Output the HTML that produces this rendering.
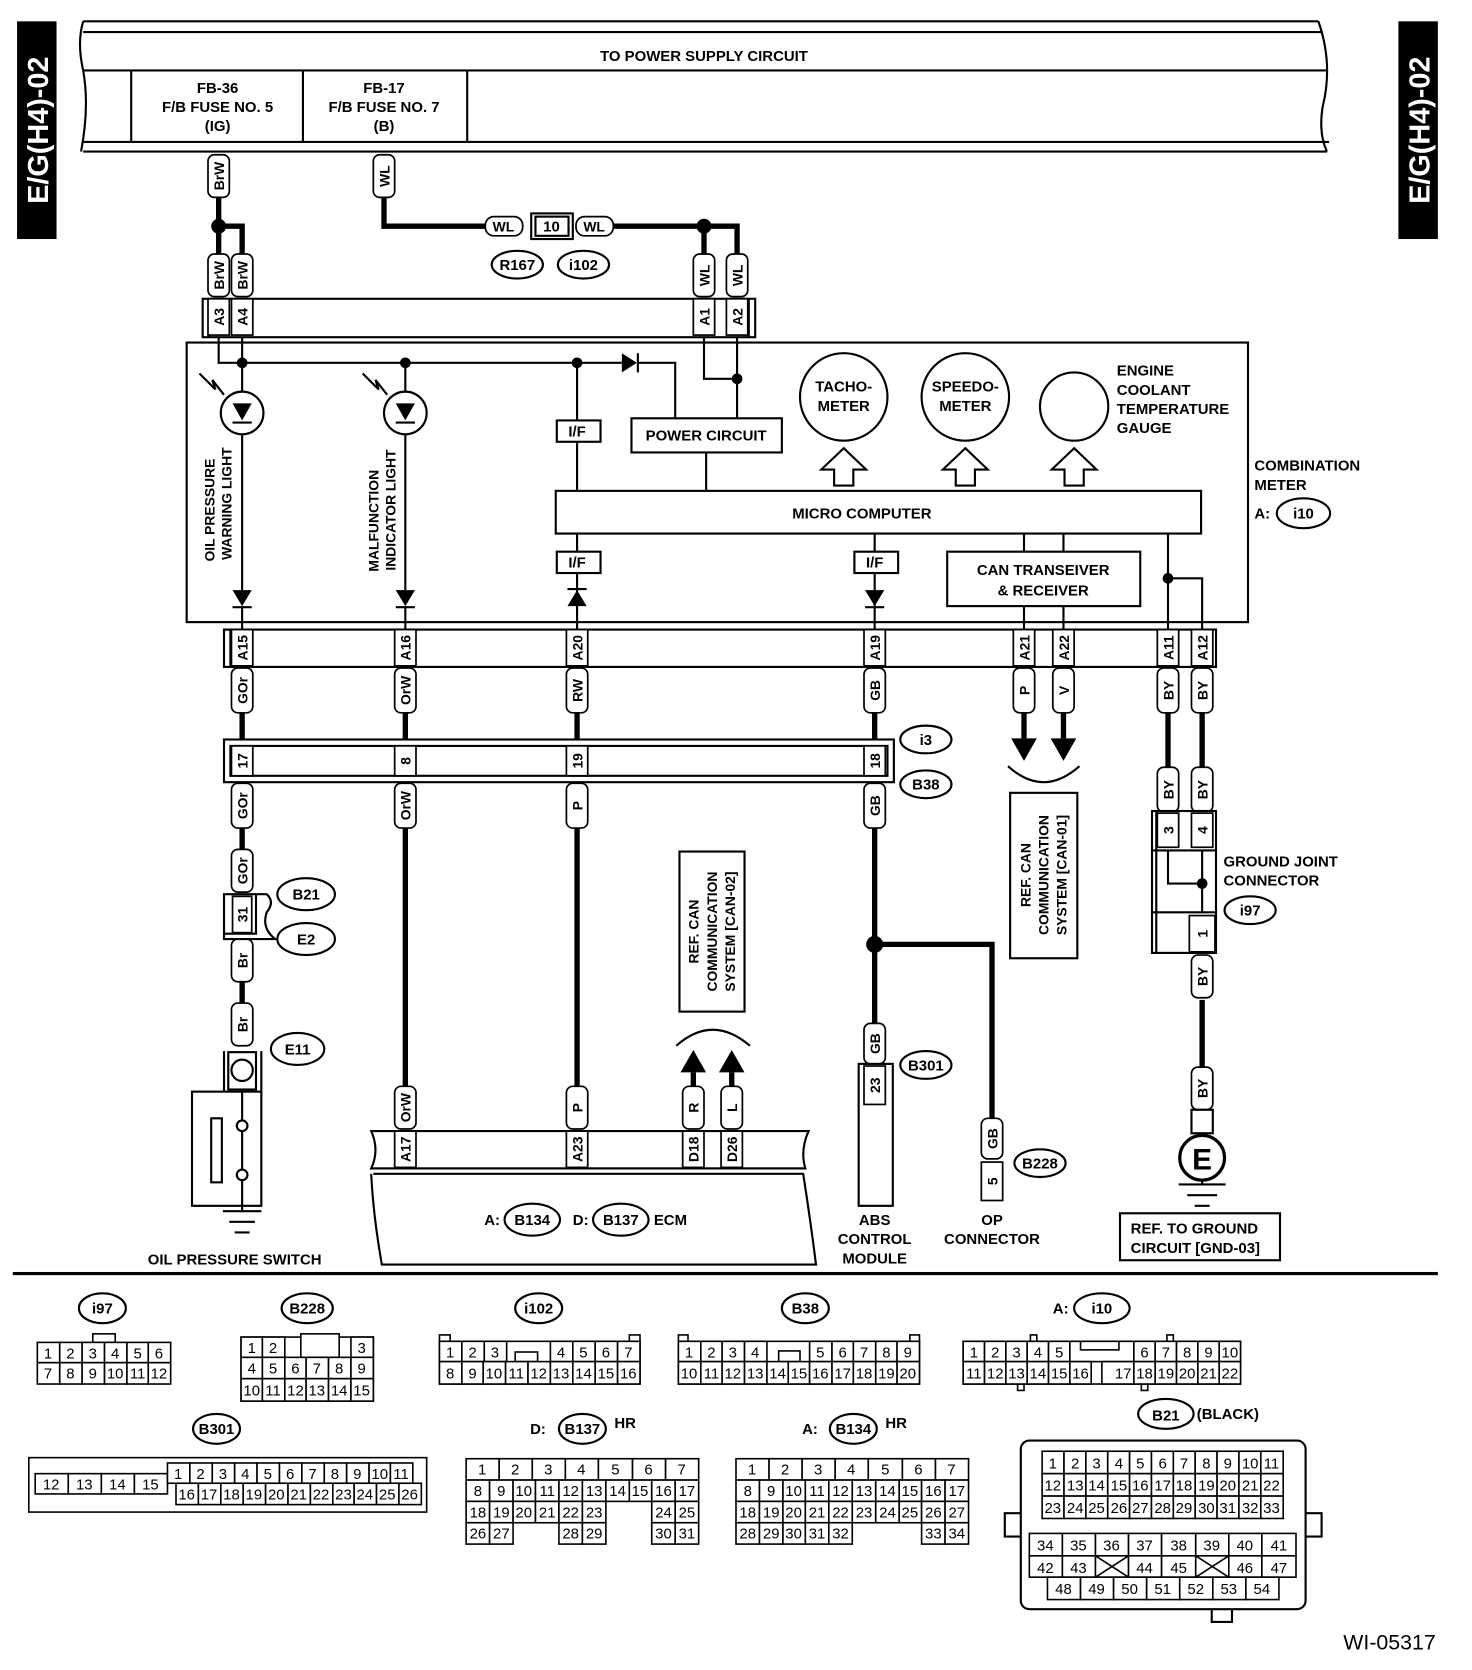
<!DOCTYPE html>
<html><head><meta charset="utf-8"><style>
html,body{margin:0;padding:0;background:#fff}
svg{display:block}
text{font-family:"Liberation Sans Narrow","Liberation Sans",sans-serif;font-weight:bold;font-size:14px;fill:#000}
.c{text-anchor:middle}
.p rect,.p polygon{fill:#fff;stroke:#000;stroke-width:1.6}
.p text{text-anchor:middle;font-family:"Liberation Sans",sans-serif;font-size:13px}
.t{stroke:#000;stroke-width:5;fill:none}
.n{stroke:#000;stroke-width:2;fill:none}
.b{fill:#fff;stroke:#000;stroke-width:2}
.g rect{fill:#fff;stroke:#000;stroke-width:1.5}
.g text{text-anchor:middle;font-weight:normal;font-size:14px}
.e{fill:#fff;stroke:#000;stroke-width:2}
</style></head><body>
<svg width="1472" height="1670" viewBox="0 0 1380 1565" preserveAspectRatio="none" xmlns="http://www.w3.org/2000/svg">
<!-- side labels -->
<rect x="16" y="20" width="37" height="204" fill="#000"/>
<text transform="translate(45,122) rotate(-90)" class="c" style="fill:#fff;font-family:'Liberation Sans',sans-serif;font-size:27px">E/G(H4)-02</text>
<rect x="1311" y="20" width="37" height="204" fill="#000"/>
<text transform="translate(1340,122) rotate(-90)" class="c" style="fill:#fff;font-family:'Liberation Sans',sans-serif;font-size:27px">E/G(H4)-02</text>

<!-- power supply bar -->
<path class="n" d="M78,20 H1236 M78,30 H1240 M78,66 H1244 M78,133 H1246 M78,142 H1244"/>
<path class="n" d="M78,20 Q72,40 78,66 Q84,100 76,142 M1236,20 Q1250,60 1240,100 Q1236,125 1244,142"/>
<text x="660" y="57" class="c">TO POWER SUPPLY CIRCUIT</text>
<path class="n" d="M123,66 V133 M284,66 V133 M438,66 V133"/>
<text x="204" y="87" class="c">FB-36</text><text x="204" y="105" class="c">F/B FUSE NO. 5</text><text x="204" y="123" class="c">(IG)</text>
<text x="360" y="87" class="c">FB-17</text><text x="360" y="105" class="c">F/B FUSE NO. 7</text><text x="360" y="123" class="c">(B)</text>

<!-- thick wires top -->
<path class="t" d="M205,185 V238 M205,212 H227 V238 M360,185 V212 H455 M575,212 H691 V238 M660,212 V238"/>
<circle cx="205" cy="212" r="7"/><circle cx="660" cy="212" r="7"/>
<g class="p"><rect x="455" y="203" width="35" height="18" rx="8"/><text x="472" y="217">WL</text></g>
<rect x="498" y="200" width="39" height="24" class="b"/><rect x="502" y="203" width="31" height="18" class="b"/><text x="517" y="217" class="c">10</text>
<g class="p"><rect x="540" y="203" width="35" height="18" rx="8"/><text x="557" y="217">WL</text></g>
<ellipse cx="485" cy="248" rx="24" ry="13" class="e"/><text x="485" y="253" class="c">R167</text>
<ellipse cx="547" cy="248" rx="24" ry="13" class="e"/><text x="547" y="253" class="c">i102</text>

<!-- pills top -->
<g class="p">
<g transform="translate(205,165)"><rect x="-10" y="-20" width="20" height="40" rx="6"/><text transform="rotate(-90)" y="5">BrW</text></g>
<g transform="translate(360,165)"><rect x="-10" y="-20" width="20" height="40" rx="6"/><text transform="rotate(-90)" y="5">WL</text></g>
<g transform="translate(205,258)"><rect x="-10" y="-20" width="20" height="40" rx="6"/><text transform="rotate(-90)" y="5">BrW</text></g>
<g transform="translate(227,258)"><rect x="-10" y="-20" width="20" height="40" rx="6"/><text transform="rotate(-90)" y="5">BrW</text></g>
<g transform="translate(660,258)"><rect x="-10" y="-20" width="20" height="40" rx="6"/><text transform="rotate(-90)" y="5">WL</text></g>
<g transform="translate(691,258)"><rect x="-10" y="-20" width="20" height="40" rx="6"/><text transform="rotate(-90)" y="5">WL</text></g>
</g>
<!-- top connector of meter -->
<rect x="190" y="280" width="518" height="36" class="b"/>
<path class="n" d="M196,280 V316 M702,280 V316"/>
<g class="p">
<g transform="translate(205,297)"><rect x="-10" y="-17" width="20" height="34"/><text transform="rotate(-90)" y="5">A3</text></g>
<g transform="translate(227,297)"><rect x="-10" y="-17" width="20" height="34"/><text transform="rotate(-90)" y="5">A4</text></g>
<g transform="translate(660,297)"><rect x="-10" y="-17" width="20" height="34"/><text transform="rotate(-90)" y="5">A1</text></g>
<g transform="translate(691,297)"><rect x="-10" y="-17" width="20" height="34"/><text transform="rotate(-90)" y="5">A2</text></g>
</g>

<!-- combination meter box -->
<rect x="175" y="321" width="995" height="262" class="b"/>
<path class="n" d="M205,316 V340 H583 M598,340 H633 V392 M227,316 V340 M660,316 V355 H691 M691,316 V392 M662,424 V460"/>
<polygon points="583,331 583,349 597,340"/><path class="n" d="M598,331 V349"/>
<circle cx="227" cy="340" r="5"/><circle cx="380" cy="340" r="5"/><circle cx="541" cy="340" r="5"/><circle cx="691" cy="355" r="5"/>
<!-- LEDs -->
<path class="n" d="M227,340 V553 M227,568 V590 M380,340 V553 M380,568 V590"/>
<circle cx="227" cy="387" r="20" class="e"/><circle cx="380" cy="387" r="20" class="e"/>
<polygon points="218,378 236,378 227,394"/><path class="n" d="M218,396 H236"/>
<polygon points="371,378 389,378 380,394"/><path class="n" d="M371,396 H389"/>
<path class="n" d="M187,350 L202,365 L199,356 L210,370 M340,350 L355,365 L352,356 L363,370"/>
<polygon points="218,553 236,553 227,568"/><path class="n" d="M218,569 H236"/>
<polygon points="371,553 389,553 380,568"/><path class="n" d="M371,569 H389"/>
<text transform="translate(201,478) rotate(-90)" class="c" style="font-family:'Liberation Sans',sans-serif;font-size:13px">OIL PRESSURE</text>
<text transform="translate(217,472) rotate(-90)" class="c" style="font-family:'Liberation Sans',sans-serif;font-size:13px">WARNING LIGHT</text>
<text transform="translate(355,488) rotate(-90)" class="c" style="font-family:'Liberation Sans',sans-serif;font-size:13px">MALFUNCTION</text>
<text transform="translate(371,478) rotate(-90)" class="c" style="font-family:'Liberation Sans',sans-serif;font-size:13px">INDICATOR LIGHT</text>
<!-- I/F lines -->
<path class="n" d="M541,340 V590 M820,500 V590 M960,500 V590 M997,500 V590 M1095,500 V590 M1095,542 H1127 V590"/>
<circle cx="1095" cy="542" r="5"/>
<rect x="522" y="394" width="41" height="20" class="b"/><text x="541" y="409" class="c">I/F</text>
<rect x="522" y="517" width="41" height="20" class="b"/><text x="541" y="532" class="c">I/F</text>
<rect x="801" y="517" width="41" height="20" class="b"/><text x="820" y="532" class="c">I/F</text>
<polygon points="532,568 550,568 541,553"/><path class="n" d="M532,552 H550"/>
<polygon points="811,553 829,553 820,568"/><path class="n" d="M811,569 H829"/>
<rect x="592" y="392" width="141" height="32" class="b"/><text x="662" y="413" class="c">POWER CIRCUIT</text>
<rect x="521" y="460" width="605" height="40" class="b"/><text x="808" y="486" class="c">MICRO COMPUTER</text>
<rect x="888" y="517" width="181" height="51" class="b"/>
<text x="978" y="539" class="c">CAN TRANSEIVER</text><text x="978" y="558" class="c">&amp; RECEIVER</text>
<!-- gauges -->
<circle cx="791" cy="372" r="41" class="e"/><text x="791" y="367" class="c">TACHO-</text><text x="791" y="385" class="c">METER</text>
<circle cx="905" cy="372" r="41" class="e"/><text x="905" y="367" class="c">SPEEDO-</text><text x="905" y="385" class="c">METER</text>
<circle cx="1007" cy="381" r="32" class="e"/>
<g class="e"><polygon points="791,420 812,440 800,440 800,455 782,455 782,440 770,440"/>
<polygon points="905,420 926,440 914,440 914,455 896,455 896,440 884,440"/>
<polygon points="1007,420 1028,440 1016,440 1016,455 998,455 998,440 986,440"/></g>
<text x="1047" y="352">ENGINE</text><text x="1047" y="370">COOLANT</text><text x="1047" y="388">TEMPERATURE</text><text x="1047" y="406">GAUGE</text>
<text x="1176" y="441">COMBINATION</text><text x="1176" y="459">METER</text><text x="1176" y="486">A:</text>
<ellipse cx="1222" cy="481" rx="25" ry="14" class="e"/><text x="1222" y="486" class="c">i10</text>

<!-- bottom meter connector -->
<rect x="210" y="590" width="930" height="35" class="b"/>
<path class="n" d="M216,590 V625 M1134,590 V625"/>
<g class="p">
<g transform="translate(227,607)"><rect x="-10" y="-17" width="20" height="34"/><text transform="rotate(-90)" y="5">A15</text></g>
<g transform="translate(380,607)"><rect x="-10" y="-17" width="20" height="34"/><text transform="rotate(-90)" y="5">A16</text></g>
<g transform="translate(541,607)"><rect x="-10" y="-17" width="20" height="34"/><text transform="rotate(-90)" y="5">A20</text></g>
<g transform="translate(820,607)"><rect x="-10" y="-17" width="20" height="34"/><text transform="rotate(-90)" y="5">A19</text></g>
<g transform="translate(960,607)"><rect x="-10" y="-17" width="20" height="34"/><text transform="rotate(-90)" y="5">A21</text></g>
<g transform="translate(997,607)"><rect x="-10" y="-17" width="20" height="34"/><text transform="rotate(-90)" y="5">A22</text></g>
<g transform="translate(1095,607)"><rect x="-10" y="-17" width="20" height="34"/><text transform="rotate(-90)" y="5">A11</text></g>
<g transform="translate(1127,607)"><rect x="-10" y="-17" width="20" height="34"/><text transform="rotate(-90)" y="5">A12</text></g>
</g>
<!-- thick wires lower -->
<path class="t" d="M227,668 V693 M380,668 V693 M541,668 V693 M820,668 V693 M960,668 V692 M997,668 V692 M1095,668 V720 M1127,668 V720
M227,775 V797 M227,917 V940 M380,775 V1018 M541,775 V1018 M820,775 V960 M820,885 H930 V1048 M1127,937 V1000 M650,1005 V1018 M686,1005 V1018"/>
<circle cx="820" cy="885" r="8"/>
<polygon points="948,692 972,692 960,713"/><polygon points="985,692 1009,692 997,713"/>
<path class="n" d="M945,718 Q978,748 1012,718"/>
<polygon points="638,1005 662,1005 650,984"/><polygon points="674,1005 698,1005 686,984"/>
<path class="n" d="M634,980 Q668,950 703,980"/>
<g class="p">
<g transform="translate(227,647)"><rect x="-10" y="-21" width="20" height="42" rx="6"/><text transform="rotate(-90)" y="5">GOr</text></g>
<g transform="translate(380,647)"><rect x="-10" y="-21" width="20" height="42" rx="6"/><text transform="rotate(-90)" y="5">OrW</text></g>
<g transform="translate(541,647)"><rect x="-10" y="-21" width="20" height="42" rx="6"/><text transform="rotate(-90)" y="5">RW</text></g>
<g transform="translate(820,647)"><rect x="-10" y="-21" width="20" height="42" rx="6"/><text transform="rotate(-90)" y="5">GB</text></g>
<g transform="translate(960,647)"><rect x="-10" y="-21" width="20" height="42" rx="6"/><text transform="rotate(-90)" y="5">P</text></g>
<g transform="translate(997,647)"><rect x="-10" y="-21" width="20" height="42" rx="6"/><text transform="rotate(-90)" y="5">V</text></g>
<g transform="translate(1095,647)"><rect x="-10" y="-21" width="20" height="42" rx="6"/><text transform="rotate(-90)" y="5">BY</text></g>
<g transform="translate(1127,647)"><rect x="-10" y="-21" width="20" height="42" rx="6"/><text transform="rotate(-90)" y="5">BY</text></g>
<g transform="translate(227,755)"><rect x="-10" y="-21" width="20" height="42" rx="6"/><text transform="rotate(-90)" y="5">GOr</text></g>
<g transform="translate(380,755)"><rect x="-10" y="-21" width="20" height="42" rx="6"/><text transform="rotate(-90)" y="5">OrW</text></g>
<g transform="translate(541,755)"><rect x="-10" y="-21" width="20" height="42" rx="6"/><text transform="rotate(-90)" y="5">P</text></g>
<g transform="translate(820,755)"><rect x="-10" y="-21" width="20" height="42" rx="6"/><text transform="rotate(-90)" y="5">GB</text></g>
<g transform="translate(1095,740)"><rect x="-10" y="-21" width="20" height="42" rx="6"/><text transform="rotate(-90)" y="5">BY</text></g>
<g transform="translate(1127,740)"><rect x="-10" y="-21" width="20" height="42" rx="6"/><text transform="rotate(-90)" y="5">BY</text></g>
<g transform="translate(227,816)"><rect x="-10" y="-20" width="20" height="40" rx="6"/><text transform="rotate(-90)" y="5">GOr</text></g>
<g transform="translate(227,900)"><rect x="-10" y="-20" width="20" height="40" rx="6"/><text transform="rotate(-90)" y="5">Br</text></g>
<g transform="translate(227,960)"><rect x="-10" y="-20" width="20" height="40" rx="6"/><text transform="rotate(-90)" y="5">Br</text></g>
<g transform="translate(380,1038)"><rect x="-10" y="-20" width="20" height="40" rx="6"/><text transform="rotate(-90)" y="5">OrW</text></g>
<g transform="translate(541,1038)"><rect x="-10" y="-20" width="20" height="40" rx="6"/><text transform="rotate(-90)" y="5">P</text></g>
<g transform="translate(650,1038)"><rect x="-10" y="-20" width="20" height="40" rx="6"/><text transform="rotate(-90)" y="5">R</text></g>
<g transform="translate(686,1038)"><rect x="-10" y="-20" width="20" height="40" rx="6"/><text transform="rotate(-90)" y="5">L</text></g>
<g transform="translate(820,978)"><rect x="-10" y="-19" width="20" height="38" rx="6"/><text transform="rotate(-90)" y="5">GB</text></g>
<g transform="translate(930,1067)"><rect x="-10" y="-19" width="20" height="38" rx="6"/><text transform="rotate(-90)" y="5">GB</text></g>
<g transform="translate(1127,915)"><rect x="-10" y="-20" width="20" height="40" rx="6"/><text transform="rotate(-90)" y="5">BY</text></g>
<g transform="translate(1127,1020)"><rect x="-10" y="-20" width="20" height="40" rx="6"/><text transform="rotate(-90)" y="5">BY</text></g>
</g>
<!-- i3/B38 -->
<rect x="210" y="693" width="628" height="40" class="b"/>
<path class="n" d="M216,699 H832 V727 H216 Z"/>
<g class="p">
<g transform="translate(227,713)"><rect x="-10" y="-14" width="20" height="28"/><text transform="rotate(-90)" y="5">17</text></g>
<g transform="translate(380,713)"><rect x="-10" y="-14" width="20" height="28"/><text transform="rotate(-90)" y="5">8</text></g>
<g transform="translate(541,713)"><rect x="-10" y="-14" width="20" height="28"/><text transform="rotate(-90)" y="5">19</text></g>
<g transform="translate(820,713)"><rect x="-10" y="-14" width="20" height="28"/><text transform="rotate(-90)" y="5">18</text></g>
</g>
<ellipse cx="868" cy="693" rx="24" ry="13" class="e"/><text x="868" y="698" class="c">i3</text>
<ellipse cx="868" cy="735" rx="24" ry="13" class="e"/><text x="868" y="740" class="c">B38</text>
<!-- REF CAN-01 -->
<rect x="947" y="743" width="63" height="155" class="b"/>
<text transform="translate(966,820) rotate(-90)" class="c" style="font-family:'Liberation Sans',sans-serif;font-size:13px">REF. CAN</text>
<text transform="translate(983,820) rotate(-90)" class="c" style="font-family:'Liberation Sans',sans-serif;font-size:13px">COMMUNICATION</text>
<text transform="translate(1000,820) rotate(-90)" class="c" style="font-family:'Liberation Sans',sans-serif;font-size:13px">SYSTEM [CAN-01]</text>
<!-- REF CAN-02 -->
<rect x="637" y="798" width="61" height="150" class="b"/>
<text transform="translate(655,873) rotate(-90)" class="c" style="font-family:'Liberation Sans',sans-serif;font-size:13px">REF. CAN</text>
<text transform="translate(672,873) rotate(-90)" class="c" style="font-family:'Liberation Sans',sans-serif;font-size:13px">COMMUNICATION</text>
<text transform="translate(689,873) rotate(-90)" class="c" style="font-family:'Liberation Sans',sans-serif;font-size:13px">SYSTEM [CAN-02]</text>
<!-- ground joint -->
<rect x="1080" y="760" width="60" height="133" class="b"/>
<path class="n" d="M1084,760 V893 M1080,797 H1140 M1080,855 H1140 M1095,797 V828 H1127 M1127,797 V855"/>
<circle cx="1127" cy="828" r="5"/>
<g class="p">
<g transform="translate(1095,778)"><rect x="-10" y="-16" width="20" height="32"/><text transform="rotate(-90)" y="5">3</text></g>
<g transform="translate(1127,778)"><rect x="-10" y="-16" width="20" height="32"/><text transform="rotate(-90)" y="5">4</text></g>
<g transform="translate(1127,875)"><rect x="-12" y="-17" width="24" height="34"/><text transform="rotate(-90)" y="5">1</text></g>
</g>
<text x="1147" y="812">GROUND JOINT</text><text x="1147" y="830">CONNECTOR</text>
<ellipse cx="1172" cy="853" rx="24" ry="13" class="e"/><text x="1172" y="858" class="c">i97</text>
<rect x="1117" y="1040" width="20" height="22" class="b"/>
<circle cx="1127" cy="1085" r="21" class="e" style="stroke-width:3"/>
<text x="1127" y="1096" class="c" style="font-size:28px;font-family:'Liberation Sans',sans-serif">E</text>
<path class="n" d="M1127,1106 V1110 M1105,1110 H1149 M1113,1120 H1141 M1120,1130 H1134"/>
<rect x="1050" y="1137" width="150" height="44" class="b"/>
<text x="1060" y="1156">REF. TO GROUND</text><text x="1060" y="1174">CIRCUIT [GND-03]</text>
<!-- oil pressure switch -->
<path class="n" d="M210,838 H240 V875 H210 Z M210,838 V880 H258 Q245,870 250,855 Q258,845 250,838 H240"/>
<g class="p"><g transform="translate(227,857)"><rect x="-9" y="-17" width="18" height="34"/><text transform="rotate(-90)" y="5">31</text></g></g>
<ellipse cx="287" cy="838" rx="27" ry="15" class="e"/><text x="287" y="843" class="c">B21</text>
<ellipse cx="287" cy="880" rx="27" ry="15" class="e"/><text x="287" y="885" class="c">E2</text>
<path class="n" d="M210,985 V1022 M245,985 V1022"/>
<rect x="214" y="986" width="26" height="35" class="b"/><circle cx="227" cy="1003" r="10" class="e"/>
<ellipse cx="279" cy="983" rx="25" ry="15" class="e"/><text x="279" y="988" class="c">E11</text>
<rect x="180" y="1023" width="65" height="107" class="b"/>
<rect x="198" y="1048" width="10" height="60" class="b"/>
<path class="n" d="M227,1023 V1050 M227,1060 V1096 M227,1106 V1135 M209,1135 H245 M215,1145 H239 M220,1155 H234"/>
<circle cx="227" cy="1055" r="5" class="e"/><circle cx="227" cy="1101" r="5" class="e"/>
<text x="220" y="1185" class="c">OIL PRESSURE SWITCH</text>
<!-- ECM -->
<path class="b" d="M348,1060 H758 Q750,1078 755,1095 H348 Q356,1078 348,1060 Z"/>
<path class="n" d="M348,1095 H755 M350,1100 H753 Q760,1145 765,1185 H358 Q350,1140 348,1100"/>
<g class="p">
<g transform="translate(380,1077)"><rect x="-10" y="-17" width="20" height="34"/><text transform="rotate(-90)" y="5">A17</text></g>
<g transform="translate(541,1077)"><rect x="-10" y="-17" width="20" height="34"/><text transform="rotate(-90)" y="5">A23</text></g>
<g transform="translate(650,1077)"><rect x="-10" y="-17" width="20" height="34"/><text transform="rotate(-90)" y="5">D18</text></g>
<g transform="translate(686,1077)"><rect x="-10" y="-17" width="20" height="34"/><text transform="rotate(-90)" y="5">D26</text></g>
</g>
<text x="454" y="1148">A:</text>
<ellipse cx="499" cy="1143" rx="26" ry="15" class="e"/><text x="499" y="1148" class="c">B134</text>
<text x="537" y="1148">D:</text>
<ellipse cx="582" cy="1143" rx="26" ry="15" class="e"/><text x="582" y="1148" class="c">B137</text>
<text x="613" y="1148">ECM</text>
<!-- ABS -->
<rect x="805" y="997" width="32" height="133" class="b"/>
<g class="p"><g transform="translate(820,1017)"><rect x="-10" y="-18" width="20" height="36"/><text transform="rotate(-90)" y="5">23</text></g></g>
<ellipse cx="868" cy="998" rx="24" ry="13" class="e"/><text x="868" y="1003" class="c">B301</text>
<text x="820" y="1148" class="c">ABS</text><text x="820" y="1166" class="c">CONTROL</text><text x="820" y="1184" class="c">MODULE</text>
<g class="p"><g transform="translate(930,1107)"><rect x="-10" y="-18" width="20" height="36"/><text transform="rotate(-90)" y="5">5</text></g></g>
<ellipse cx="975" cy="1090" rx="24" ry="13" class="e"/><text x="975" y="1095" class="c">B228</text>
<text x="930" y="1148" class="c">OP</text><text x="930" y="1166" class="c">CONNECTOR</text>

<rect x="12" y="1192" width="1336" height="3" fill="#000"/>

<!-- bottom connectors -->
<ellipse cx="96" cy="1226" rx="22" ry="14" class="e"/><text x="96" y="1231" class="c">i97</text>
<ellipse cx="288" cy="1226" rx="24" ry="14" class="e"/><text x="288" y="1231" class="c">B228</text>
<ellipse cx="505" cy="1226" rx="22" ry="14" class="e"/><text x="505" y="1231" class="c">i102</text>
<ellipse cx="755" cy="1226" rx="22" ry="14" class="e"/><text x="755" y="1231" class="c">B38</text>
<text x="987" y="1231">A:</text>
<ellipse cx="1033" cy="1226" rx="26" ry="14" class="e"/><text x="1033" y="1231" class="c">i10</text>
<ellipse cx="203" cy="1339" rx="22" ry="14" class="e"/><text x="203" y="1344" class="c">B301</text>
<text x="497" y="1344">D:</text>
<ellipse cx="546" cy="1339" rx="22" ry="14" class="e"/><text x="546" y="1344" class="c">B137</text><text x="576" y="1338">HR</text>
<text x="752" y="1344">A:</text>
<ellipse cx="800" cy="1339" rx="22" ry="14" class="e"/><text x="800" y="1344" class="c">B134</text><text x="830" y="1338">HR</text>
<ellipse cx="1093" cy="1325" rx="26" ry="14" class="e"/><text x="1093" y="1331" class="c">B21</text><text x="1122" y="1330">(BLACK)</text>

<g class="g">
<!-- i97 -->
<rect x="87" y="1250" width="21" height="8"/>
<rect x="35" y="1258" width="21" height="19"/><text x="45" y="1273">1</text>
<rect x="56" y="1258" width="21" height="19"/><text x="66" y="1273">2</text>
<rect x="77" y="1258" width="21" height="19"/><text x="87" y="1273">3</text>
<rect x="98" y="1258" width="21" height="19"/><text x="108" y="1273">4</text>
<rect x="119" y="1258" width="20" height="19"/><text x="129" y="1273">5</text>
<rect x="139" y="1258" width="21" height="19"/><text x="149" y="1273">6</text>
<rect x="35" y="1277" width="21" height="20"/><text x="45" y="1292">7</text>
<rect x="56" y="1277" width="21" height="20"/><text x="66" y="1292">8</text>
<rect x="77" y="1277" width="21" height="20"/><text x="87" y="1292">9</text>
<rect x="98" y="1277" width="21" height="20"/><text x="108" y="1292">10</text>
<rect x="119" y="1277" width="20" height="20"/><text x="129" y="1292">11</text>
<rect x="139" y="1277" width="21" height="20"/><text x="149" y="1292">12</text>
<!-- B228 -->
<rect x="226" y="1253" width="124" height="60"/>
<rect x="226" y="1253" width="20" height="19"/><text x="236" y="1268">1</text>
<rect x="246" y="1253" width="21" height="19"/><text x="256" y="1268">2</text>
<rect x="282" y="1250" width="36" height="22"/>
<rect x="329" y="1253" width="21" height="19"/><text x="339" y="1268">3</text>
<rect x="226" y="1272" width="20" height="20"/><text x="236" y="1287">4</text>
<rect x="246" y="1272" width="21" height="20"/><text x="256" y="1287">5</text>
<rect x="267" y="1272" width="20" height="20"/><text x="277" y="1287">6</text>
<rect x="287" y="1272" width="21" height="20"/><text x="297" y="1287">7</text>
<rect x="308" y="1272" width="21" height="20"/><text x="318" y="1287">8</text>
<rect x="329" y="1272" width="21" height="20"/><text x="339" y="1287">9</text>
<rect x="226" y="1292" width="20" height="21"/><text x="236" y="1308">10</text>
<rect x="246" y="1292" width="21" height="21"/><text x="256" y="1308">11</text>
<rect x="267" y="1292" width="20" height="21"/><text x="277" y="1308">12</text>
<rect x="287" y="1292" width="21" height="21"/><text x="297" y="1308">13</text>
<rect x="308" y="1292" width="21" height="21"/><text x="318" y="1308">14</text>
<rect x="329" y="1292" width="21" height="21"/><text x="339" y="1308">15</text>
<!-- i102 -->
<rect x="412" y="1251" width="10" height="6"/><rect x="590" y="1251" width="10" height="6"/>
<rect x="412" y="1257" width="188" height="40"/>
<rect x="412" y="1257" width="21" height="19"/><text x="422" y="1272">1</text>
<rect x="433" y="1257" width="21" height="19"/><text x="443" y="1272">2</text>
<rect x="454" y="1257" width="21" height="19"/><text x="464" y="1272">3</text>
<rect x="483" y="1267" width="21" height="9"/>
<rect x="516" y="1257" width="21" height="19"/><text x="526" y="1272">4</text>
<rect x="537" y="1257" width="21" height="19"/><text x="547" y="1272">5</text>
<rect x="558" y="1257" width="21" height="19"/><text x="568" y="1272">6</text>
<rect x="579" y="1257" width="21" height="19"/><text x="589" y="1272">7</text>
<rect x="412" y="1276" width="21" height="21"/><text x="422" y="1292">8</text>
<rect x="433" y="1276" width="20" height="21"/><text x="443" y="1292">9</text>
<rect x="453" y="1276" width="21" height="21"/><text x="463" y="1292">10</text>
<rect x="474" y="1276" width="21" height="21"/><text x="484" y="1292">11</text>
<rect x="495" y="1276" width="21" height="21"/><text x="505" y="1292">12</text>
<rect x="516" y="1276" width="21" height="21"/><text x="526" y="1292">13</text>
<rect x="537" y="1276" width="21" height="21"/><text x="547" y="1292">14</text>
<rect x="558" y="1276" width="21" height="21"/><text x="568" y="1292">15</text>
<rect x="579" y="1276" width="21" height="21"/><text x="589" y="1292">16</text>
<!-- B38 -->
<rect x="636" y="1251" width="9" height="6"/><rect x="853" y="1251" width="9" height="6"/>
<rect x="636" y="1257" width="226" height="40"/>
<rect x="636" y="1257" width="21" height="19"/><text x="646" y="1272">1</text>
<rect x="657" y="1257" width="20" height="19"/><text x="667" y="1272">2</text>
<rect x="677" y="1257" width="21" height="19"/><text x="687" y="1272">3</text>
<rect x="698" y="1257" width="21" height="19"/><text x="708" y="1272">4</text>
<rect x="730" y="1266" width="20" height="10"/>
<rect x="759" y="1257" width="21" height="19"/><text x="769" y="1272">5</text>
<rect x="780" y="1257" width="20" height="19"/><text x="790" y="1272">6</text>
<rect x="800" y="1257" width="21" height="19"/><text x="810" y="1272">7</text>
<rect x="821" y="1257" width="20" height="19"/><text x="831" y="1272">8</text>
<rect x="841" y="1257" width="21" height="19"/><text x="851" y="1272">9</text>
<rect x="636" y="1276" width="21" height="21"/><text x="646" y="1292">10</text>
<rect x="657" y="1276" width="20" height="21"/><text x="667" y="1292">11</text>
<rect x="677" y="1276" width="21" height="21"/><text x="687" y="1292">12</text>
<rect x="698" y="1276" width="21" height="21"/><text x="708" y="1292">13</text>
<rect x="719" y="1276" width="20" height="21"/><text x="729" y="1292">14</text>
<rect x="739" y="1276" width="20" height="21"/><text x="749" y="1292">15</text>
<rect x="759" y="1276" width="21" height="21"/><text x="769" y="1292">16</text>
<rect x="780" y="1276" width="20" height="21"/><text x="790" y="1292">17</text>
<rect x="800" y="1276" width="21" height="21"/><text x="810" y="1292">18</text>
<rect x="821" y="1276" width="20" height="21"/><text x="831" y="1292">19</text>
<rect x="841" y="1276" width="21" height="21"/><text x="851" y="1292">20</text>
<!-- i10 -->
<rect x="966" y="1251" width="6" height="6"/><rect x="1094" y="1251" width="6" height="6"/>
<rect x="954" y="1297" width="6" height="6"/><rect x="1070" y="1297" width="6" height="6"/>
<rect x="903" y="1257" width="260" height="40"/>
<rect x="903" y="1257" width="20" height="19"/><text x="913" y="1272">1</text>
<rect x="923" y="1257" width="20" height="19"/><text x="933" y="1272">2</text>
<rect x="943" y="1257" width="20" height="19"/><text x="953" y="1272">3</text>
<rect x="963" y="1257" width="20" height="19"/><text x="973" y="1272">4</text>
<rect x="983" y="1257" width="20" height="19"/><text x="993" y="1272">5</text>
<rect x="1003" y="1257" width="60" height="19"/><rect x="1013" y="1257" width="36" height="8"/>
<rect x="1063" y="1257" width="20" height="19"/><text x="1073" y="1272">6</text>
<rect x="1083" y="1257" width="20" height="19"/><text x="1093" y="1272">7</text>
<rect x="1103" y="1257" width="20" height="19"/><text x="1113" y="1272">8</text>
<rect x="1123" y="1257" width="20" height="19"/><text x="1133" y="1272">9</text>
<rect x="1143" y="1257" width="20" height="19"/><text x="1153" y="1272">10</text>
<rect x="903" y="1276" width="20" height="21"/><text x="913" y="1292">11</text>
<rect x="923" y="1276" width="20" height="21"/><text x="933" y="1292">12</text>
<rect x="943" y="1276" width="20" height="21"/><text x="953" y="1292">13</text>
<rect x="963" y="1276" width="20" height="21"/><text x="973" y="1292">14</text>
<rect x="983" y="1276" width="20" height="21"/><text x="993" y="1292">15</text>
<rect x="1003" y="1276" width="20" height="21"/><text x="1013" y="1292">16</text>
<rect x="1033" y="1276" width="30" height="21"/><text x="1053" y="1292">17</text>
<rect x="1063" y="1276" width="20" height="21"/><text x="1073" y="1292">18</text>
<rect x="1083" y="1276" width="20" height="21"/><text x="1093" y="1292">19</text>
<rect x="1103" y="1276" width="20" height="21"/><text x="1113" y="1292">20</text>
<rect x="1123" y="1276" width="20" height="21"/><text x="1133" y="1292">21</text>
<rect x="1143" y="1276" width="20" height="21"/><text x="1153" y="1292">22</text>
<!-- B301 -->
<rect x="27" y="1366" width="373" height="51"/>
<rect x="33" y="1381" width="31" height="19"/><text x="48" y="1396">12</text>
<rect x="64" y="1381" width="31" height="19"/><text x="79" y="1396">13</text>
<rect x="95" y="1381" width="31" height="19"/><text x="110" y="1396">14</text>
<rect x="126" y="1381" width="31" height="19"/><text x="141" y="1396">15</text>
<rect x="157" y="1371" width="21" height="19"/><text x="167" y="1386">1</text>
<rect x="178" y="1371" width="21" height="19"/><text x="188" y="1386">2</text>
<rect x="199" y="1371" width="21" height="19"/><text x="209" y="1386">3</text>
<rect x="220" y="1371" width="21" height="19"/><text x="230" y="1386">4</text>
<rect x="241" y="1371" width="21" height="19"/><text x="251" y="1386">5</text>
<rect x="262" y="1371" width="21" height="19"/><text x="272" y="1386">6</text>
<rect x="283" y="1371" width="21" height="19"/><text x="293" y="1386">7</text>
<rect x="304" y="1371" width="21" height="19"/><text x="314" y="1386">8</text>
<rect x="325" y="1371" width="21" height="19"/><text x="335" y="1386">9</text>
<rect x="346" y="1371" width="20" height="19"/><text x="356" y="1386">10</text>
<rect x="366" y="1371" width="21" height="19"/><text x="376" y="1386">11</text>
<rect x="165" y="1390" width="21" height="20"/><text x="175" y="1405">16</text>
<rect x="186" y="1390" width="21" height="20"/><text x="196" y="1405">17</text>
<rect x="207" y="1390" width="21" height="20"/><text x="217" y="1405">18</text>
<rect x="228" y="1390" width="21" height="20"/><text x="238" y="1405">19</text>
<rect x="249" y="1390" width="21" height="20"/><text x="259" y="1405">20</text>
<rect x="270" y="1390" width="21" height="20"/><text x="280" y="1405">21</text>
<rect x="291" y="1390" width="21" height="20"/><text x="301" y="1405">22</text>
<rect x="312" y="1390" width="20" height="20"/><text x="322" y="1405">23</text>
<rect x="332" y="1390" width="21" height="20"/><text x="342" y="1405">24</text>
<rect x="353" y="1390" width="21" height="20"/><text x="363" y="1405">25</text>
<rect x="374" y="1390" width="21" height="20"/><text x="384" y="1405">26</text>
<!-- B137 -->
<rect x="437" y="1367" width="31" height="20"/><text x="452" y="1382">1</text>
<rect x="468" y="1367" width="31" height="20"/><text x="483" y="1382">2</text>
<rect x="499" y="1367" width="31" height="20"/><text x="514" y="1382">3</text>
<rect x="530" y="1367" width="31" height="20"/><text x="545" y="1382">4</text>
<rect x="561" y="1367" width="32" height="20"/><text x="577" y="1382">5</text>
<rect x="593" y="1367" width="31" height="20"/><text x="608" y="1382">6</text>
<rect x="624" y="1367" width="31" height="20"/><text x="639" y="1382">7</text>
<rect x="437" y="1387" width="22" height="20"/><text x="448" y="1402">8</text>
<rect x="459" y="1387" width="22" height="20"/><text x="470" y="1402">9</text>
<rect x="481" y="1387" width="21" height="20"/><text x="491" y="1402">10</text>
<rect x="502" y="1387" width="22" height="20"/><text x="513" y="1402">11</text>
<rect x="524" y="1387" width="22" height="20"/><text x="535" y="1402">12</text>
<rect x="546" y="1387" width="22" height="20"/><text x="557" y="1402">13</text>
<rect x="568" y="1387" width="22" height="20"/><text x="579" y="1402">14</text>
<rect x="590" y="1387" width="21" height="20"/><text x="600" y="1402">15</text>
<rect x="611" y="1387" width="22" height="20"/><text x="622" y="1402">16</text>
<rect x="633" y="1387" width="22" height="20"/><text x="644" y="1402">17</text>
<rect x="437" y="1407" width="22" height="20"/><text x="448" y="1422">18</text>
<rect x="459" y="1407" width="22" height="20"/><text x="470" y="1422">19</text>
<rect x="481" y="1407" width="21" height="20"/><text x="491" y="1422">20</text>
<rect x="502" y="1407" width="22" height="20"/><text x="513" y="1422">21</text>
<rect x="524" y="1407" width="22" height="20"/><text x="535" y="1422">22</text>
<rect x="546" y="1407" width="22" height="20"/><text x="557" y="1422">23</text>
<rect x="611" y="1407" width="22" height="20"/><text x="622" y="1422">24</text>
<rect x="633" y="1407" width="22" height="20"/><text x="644" y="1422">25</text>
<rect x="437" y="1427" width="22" height="20"/><text x="448" y="1442">26</text>
<rect x="459" y="1427" width="22" height="20"/><text x="470" y="1442">27</text>
<rect x="524" y="1427" width="22" height="20"/><text x="535" y="1442">28</text>
<rect x="546" y="1427" width="22" height="20"/><text x="557" y="1442">29</text>
<rect x="611" y="1427" width="22" height="20"/><text x="622" y="1442">30</text>
<rect x="633" y="1427" width="22" height="20"/><text x="644" y="1442">31</text>
<!-- B134 -->
<rect x="690" y="1367" width="31" height="20"/><text x="705" y="1382">1</text>
<rect x="721" y="1367" width="31" height="20"/><text x="736" y="1382">2</text>
<rect x="752" y="1367" width="31" height="20"/><text x="767" y="1382">3</text>
<rect x="783" y="1367" width="31" height="20"/><text x="798" y="1382">4</text>
<rect x="814" y="1367" width="32" height="20"/><text x="830" y="1382">5</text>
<rect x="846" y="1367" width="31" height="20"/><text x="861" y="1382">6</text>
<rect x="877" y="1367" width="31" height="20"/><text x="892" y="1382">7</text>
<rect x="690" y="1387" width="22" height="20"/><text x="701" y="1402">8</text>
<rect x="712" y="1387" width="22" height="20"/><text x="723" y="1402">9</text>
<rect x="734" y="1387" width="21" height="20"/><text x="744" y="1402">10</text>
<rect x="755" y="1387" width="22" height="20"/><text x="766" y="1402">11</text>
<rect x="777" y="1387" width="22" height="20"/><text x="788" y="1402">12</text>
<rect x="799" y="1387" width="22" height="20"/><text x="810" y="1402">13</text>
<rect x="821" y="1387" width="22" height="20"/><text x="832" y="1402">14</text>
<rect x="843" y="1387" width="21" height="20"/><text x="853" y="1402">15</text>
<rect x="864" y="1387" width="22" height="20"/><text x="875" y="1402">16</text>
<rect x="886" y="1387" width="22" height="20"/><text x="897" y="1402">17</text>
<rect x="690" y="1407" width="22" height="20"/><text x="701" y="1422">18</text>
<rect x="712" y="1407" width="22" height="20"/><text x="723" y="1422">19</text>
<rect x="734" y="1407" width="21" height="20"/><text x="744" y="1422">20</text>
<rect x="755" y="1407" width="22" height="20"/><text x="766" y="1422">21</text>
<rect x="777" y="1407" width="22" height="20"/><text x="788" y="1422">22</text>
<rect x="799" y="1407" width="22" height="20"/><text x="810" y="1422">23</text>
<rect x="821" y="1407" width="22" height="20"/><text x="832" y="1422">24</text>
<rect x="843" y="1407" width="21" height="20"/><text x="853" y="1422">25</text>
<rect x="864" y="1407" width="22" height="20"/><text x="875" y="1422">26</text>
<rect x="886" y="1407" width="22" height="20"/><text x="897" y="1422">27</text>
<rect x="690" y="1427" width="22" height="20"/><text x="701" y="1442">28</text>
<rect x="712" y="1427" width="22" height="20"/><text x="723" y="1442">29</text>
<rect x="734" y="1427" width="21" height="20"/><text x="744" y="1442">30</text>
<rect x="755" y="1427" width="22" height="20"/><text x="766" y="1442">31</text>
<rect x="777" y="1427" width="22" height="20"/><text x="788" y="1442">32</text>
<rect x="864" y="1427" width="22" height="20"/><text x="875" y="1442">33</text>
<rect x="886" y="1427" width="22" height="20"/><text x="897" y="1442">34</text>
</g>
<!-- B21 -->
<path class="n" d="M957,1418 H942 V1440 H957 M1224,1418 H1239 V1440 H1224 M1136,1508 V1520 H1155 V1508"/>
<rect x="957" y="1350" width="267" height="158" rx="8" class="b"/>
<g class="g">
<rect x="977" y="1360" width="20.5" height="21"/><text x="987" y="1376">1</text>
<rect x="997.5" y="1360" width="20.5" height="21"/><text x="1008" y="1376">2</text>
<rect x="1018" y="1360" width="20.5" height="21"/><text x="1028" y="1376">3</text>
<rect x="1038.5" y="1360" width="20.5" height="21"/><text x="1049" y="1376">4</text>
<rect x="1059" y="1360" width="20.5" height="21"/><text x="1069" y="1376">5</text>
<rect x="1079.5" y="1360" width="20.5" height="21"/><text x="1090" y="1376">6</text>
<rect x="1100" y="1360" width="20.5" height="21"/><text x="1110" y="1376">7</text>
<rect x="1120.5" y="1360" width="20.5" height="21"/><text x="1131" y="1376">8</text>
<rect x="1141" y="1360" width="20.5" height="21"/><text x="1151" y="1376">9</text>
<rect x="1161.5" y="1360" width="20.5" height="21"/><text x="1172" y="1376">10</text>
<rect x="1182" y="1360" width="21" height="21"/><text x="1192" y="1376">11</text>
<rect x="977" y="1381" width="20.5" height="21"/><text x="987" y="1397">12</text>
<rect x="997.5" y="1381" width="20.5" height="21"/><text x="1008" y="1397">13</text>
<rect x="1018" y="1381" width="20.5" height="21"/><text x="1028" y="1397">14</text>
<rect x="1038.5" y="1381" width="20.5" height="21"/><text x="1049" y="1397">15</text>
<rect x="1059" y="1381" width="20.5" height="21"/><text x="1069" y="1397">16</text>
<rect x="1079.5" y="1381" width="20.5" height="21"/><text x="1090" y="1397">17</text>
<rect x="1100" y="1381" width="20.5" height="21"/><text x="1110" y="1397">18</text>
<rect x="1120.5" y="1381" width="20.5" height="21"/><text x="1131" y="1397">19</text>
<rect x="1141" y="1381" width="20.5" height="21"/><text x="1151" y="1397">20</text>
<rect x="1161.5" y="1381" width="20.5" height="21"/><text x="1172" y="1397">21</text>
<rect x="1182" y="1381" width="21" height="21"/><text x="1192" y="1397">22</text>
<rect x="977" y="1402" width="20.5" height="21"/><text x="987" y="1418">23</text>
<rect x="997.5" y="1402" width="20.5" height="21"/><text x="1008" y="1418">24</text>
<rect x="1018" y="1402" width="20.5" height="21"/><text x="1028" y="1418">25</text>
<rect x="1038.5" y="1402" width="20.5" height="21"/><text x="1049" y="1418">26</text>
<rect x="1059" y="1402" width="20.5" height="21"/><text x="1069" y="1418">27</text>
<rect x="1079.5" y="1402" width="20.5" height="21"/><text x="1090" y="1418">28</text>
<rect x="1100" y="1402" width="20.5" height="21"/><text x="1110" y="1418">29</text>
<rect x="1120.5" y="1402" width="20.5" height="21"/><text x="1131" y="1418">30</text>
<rect x="1141" y="1402" width="20.5" height="21"/><text x="1151" y="1418">31</text>
<rect x="1161.5" y="1402" width="20.5" height="21"/><text x="1172" y="1418">32</text>
<rect x="1182" y="1402" width="21" height="21"/><text x="1192" y="1418">33</text>
<rect x="965" y="1437" width="31" height="21"/><text x="980" y="1453">34</text>
<rect x="996" y="1437" width="31" height="21"/><text x="1011" y="1453">35</text>
<rect x="1027" y="1437" width="31" height="21"/><text x="1042" y="1453">36</text>
<rect x="1058" y="1437" width="31" height="21"/><text x="1073" y="1453">37</text>
<rect x="1089" y="1437" width="32" height="21"/><text x="1105" y="1453">38</text>
<rect x="1121" y="1437" width="31" height="21"/><text x="1136" y="1453">39</text>
<rect x="1152" y="1437" width="31" height="21"/><text x="1167" y="1453">40</text>
<rect x="1183" y="1437" width="32" height="21"/><text x="1199" y="1453">41</text>
<rect x="965" y="1458" width="31" height="20"/><text x="980" y="1474">42</text>
<rect x="996" y="1458" width="31" height="20"/><text x="1011" y="1474">43</text>
<rect x="1027" y="1458" width="31" height="20"/>
<rect x="1058" y="1458" width="31" height="20"/><text x="1073" y="1474">44</text>
<rect x="1089" y="1458" width="32" height="20"/><text x="1105" y="1474">45</text>
<rect x="1121" y="1458" width="31" height="20"/>
<rect x="1152" y="1458" width="31" height="20"/><text x="1167" y="1474">46</text>
<rect x="1183" y="1458" width="32" height="20"/><text x="1199" y="1474">47</text>
<rect x="982" y="1478" width="31" height="21"/><text x="997" y="1494">48</text>
<rect x="1013" y="1478" width="31" height="21"/><text x="1028" y="1494">49</text>
<rect x="1044" y="1478" width="31" height="21"/><text x="1059" y="1494">50</text>
<rect x="1075" y="1478" width="31" height="21"/><text x="1090" y="1494">51</text>
<rect x="1106" y="1478" width="31" height="21"/><text x="1121" y="1494">52</text>
<rect x="1137" y="1478" width="31" height="21"/><text x="1152" y="1494">53</text>
<rect x="1168" y="1478" width="31" height="21"/><text x="1183" y="1494">54</text>
</g>
<path class="n" style="stroke-width:1.5" d="M1027,1458 L1058,1478 M1058,1458 L1027,1478 M1121,1458 L1152,1478 M1152,1458 L1121,1478"/>
<text x="1346" y="1546" style="text-anchor:end;font-family:'Liberation Sans',sans-serif;font-weight:normal;font-size:20px">WI-05317</text>
</svg>
</body></html>
